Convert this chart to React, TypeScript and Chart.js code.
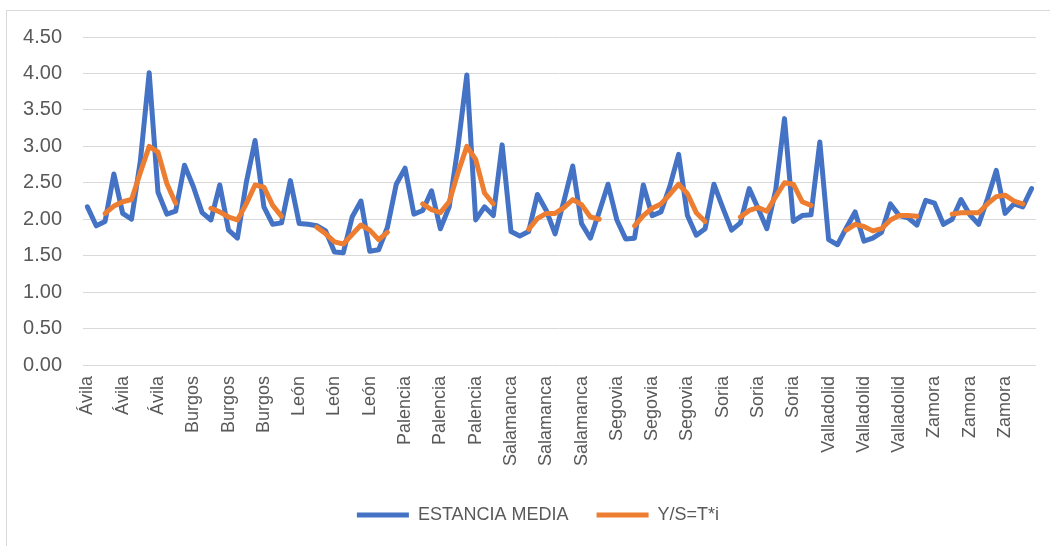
import React, { useEffect, useRef } from "react";
import { Chart, registerables } from "chart.js";

Chart.register(...registerables);

// ---- Data ----
const provinces = ["Ávila", "Burgos", "León", "Palencia", "Salamanca", "Segovia", "Soria", "Valladolid", "Zamora"];
const monthsPerProvince = 12;
const seriesNames = ["ESTANCIA MEDIA", "Y/S=T*i"];

// ESTANCIA MEDIA (12 values per province)
const estanciaMedia = [
  2.17, 1.91, 1.97, 2.62, 2.08, 2.0, 2.8, 4.01, 2.37, 2.07, 2.11, 2.74, // Ávila
  2.45, 2.09, 1.99, 2.47, 1.85, 1.74, 2.5, 3.08, 2.17, 1.93, 1.95, 2.53, // Burgos
  1.94, 1.93, 1.91, 1.84, 1.55, 1.54, 2.03, 2.25, 1.56, 1.58, 1.89, 2.48, // León
  2.7, 2.07, 2.12, 2.39, 1.87, 2.17, 3.0, 3.98, 1.99, 2.17, 2.05, 3.02, // Palencia
  1.83, 1.77, 1.83, 2.34, 2.12, 1.8, 2.25, 2.73, 1.94, 1.74, 2.1, 2.48, // Salamanca
  1.99, 1.73, 1.74, 2.47, 2.05, 2.1, 2.45, 2.89, 2.05, 1.78, 1.87, 2.48, // Segovia
  2.16, 1.85, 1.95, 2.42, 2.15, 1.87, 2.4, 3.38, 1.97, 2.05, 2.06, 3.06, // Soria
  1.72, 1.65, 1.88, 2.1, 1.7, 1.74, 1.82, 2.21, 2.05, 2.02, 1.92, 2.26, // Valladolid
  2.22, 1.93, 2.0, 2.27, 2.06, 1.93, 2.28, 2.67, 2.08, 2.21, 2.17, 2.42, // Zamora
];

// Y/S=T*i (null where no value)
const ysTi = [
  null, null, 2.08, 2.18, 2.24, 2.27, 2.64, 3.0, 2.92, 2.49, 2.22, null, // Ávila
  null, null, 2.15, 2.1, 2.03, 1.99, 2.21, 2.47, 2.44, 2.19, 2.04, null, // Burgos
  null, null, 1.89, 1.8, 1.69, 1.66, 1.79, 1.92, 1.85, 1.72, 1.82, null, // León
  null, null, 2.21, 2.13, 2.09, 2.24, 2.64, 3.0, 2.82, 2.36, 2.21, null, // Palencia
  null, null, 1.86, 2.01, 2.08, 2.08, 2.16, 2.27, 2.2, 2.03, 2.0, null, // Salamanca
  null, null, 1.91, 2.05, 2.15, 2.21, 2.34, 2.48, 2.35, 2.09, 1.97, null, // Segovia
  null, null, 2.03, 2.12, 2.16, 2.11, 2.31, 2.5, 2.48, 2.24, 2.19, null, // Soria
  null, null, 1.85, 1.93, 1.9, 1.84, 1.87, 1.99, 2.05, 2.05, 2.04, null, // Valladolid
  null, null, 2.07, 2.09, 2.09, 2.09, 2.21, 2.31, 2.33, 2.25, 2.21, null, // Zamora
];

const yMin = 0;
const yMax = 4.5;
const yStep = 0.5;
const labelEvery = 4;

const categories = provinces.flatMap((p) => Array(monthsPerProvince).fill(p));

const TEXT = "#595959";
const GRID = "#d9d9d9";
const BLUE = "#4472C4";
const ORANGE = "#ED7D31";

// nudges the bottom legend a little to the right, as in the original
const legendShift = {
  id: "legendShift",
  afterLayout(chart: any) {
    const l = chart.legend;
    if (l) {
      l.left += 10;
      l.right += 10;
    }
  },
};

export default function App() {
  const ref = useRef<HTMLCanvasElement>(null);

  useEffect(() => {
    Chart.defaults.font.family = "'Liberation Sans', Arial, sans-serif";
    Chart.defaults.color = TEXT;
    const chart = new Chart(ref.current!, {
      type: "line",
      data: {
        labels: categories,
        datasets: [
          {
            label: seriesNames[0],
            data: estanciaMedia,
            borderColor: BLUE,
            backgroundColor: BLUE,
            borderWidth: 5,
            pointRadius: 0,
            pointHoverRadius: 0,
            tension: 0,
            borderCapStyle: "round",
            borderJoinStyle: "round",
            order: 1,
          },
          {
            label: seriesNames[1],
            data: ysTi,
            borderColor: ORANGE,
            backgroundColor: ORANGE,
            borderWidth: 5,
            pointRadius: 0,
            pointHoverRadius: 0,
            tension: 0,
            spanGaps: false,
            borderCapStyle: "round",
            borderJoinStyle: "round",
            order: 0,
          },
        ],
      },
      options: {
        responsive: false,
        animation: false,
        events: [],
        layout: { padding: { left: 20, right: 14, top: 37, bottom: 12 } },
        plugins: {
          legend: {
            position: "bottom",
            labels: {
              usePointStyle: true,
              pointStyle: "line",
              pointStyleWidth: 52,
              padding: 28,
              color: TEXT,
              font: { size: 18 },
              sort: (a: any, b: any) => a.datasetIndex - b.datasetIndex,
            },
          },
          tooltip: { enabled: false },
        },
        scales: {
          x: {
            offset: true,
            grid: { display: false, drawTicks: false },
            border: { display: false },
            ticks: {
              autoSkip: false,
              minRotation: 90,
              maxRotation: 90,
              padding: 11,
              color: TEXT,
              font: { size: 18 },
              callback: function (this: any, val: any, idx: number) {
                return idx % labelEvery === 0 ? this.getLabelForValue(val) : "";
              },
            },
            afterFit: (s: any) => {
              s.height = 113;
              s.paddingLeft = 0;
              s.paddingRight = 0;
            },
          },
          y: {
            min: yMin,
            max: yMax,
            grid: { color: GRID, lineWidth: 1, drawTicks: false },
            border: { display: false },
            ticks: {
              stepSize: yStep,
              padding: 21,
              color: TEXT,
              font: { size: 20 },
              callback: (v: any) => Number(v).toFixed(2),
            },
            afterFit: (s: any) => {
              s.width = 63;
            },
          },
        },
      },
      plugins: [legendShift],
    } as any);
    return () => chart.destroy();
  }, []);

  return (
    <div style={{ position: "fixed", left: 0, top: 0, width: 1050, height: 546, overflow: "hidden", background: "#fff" }}>
      <div
        style={{
          position: "absolute",
          left: 6,
          top: 10,
          width: 1100,
          height: 600,
          border: "1px solid #d9d9d9",
          boxSizing: "border-box",
        }}
      />
      <canvas ref={ref} width={1050} height={546} style={{ position: "absolute", left: 0, top: 0 }} />
    </div>
  );
}
